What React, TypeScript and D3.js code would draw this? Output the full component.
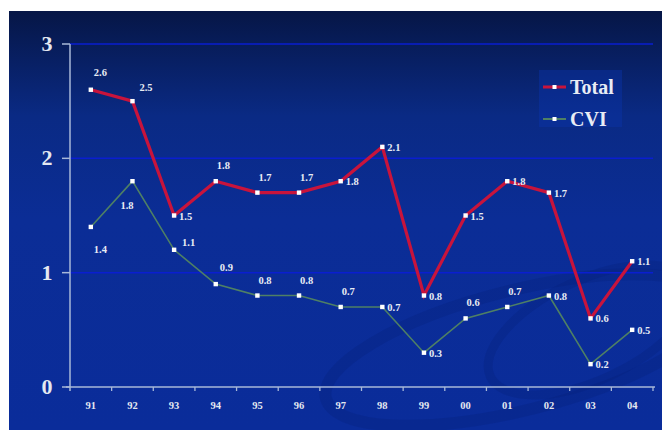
import React from "react";
import * as d3 from "d3";

const years = ["91","92","93","94","95","96","97","98","99","00","01","02","03","04"];
const totalValues = [2.6, 2.5, 1.5, 1.8, 1.7, 1.7, 1.8, 2.1, 0.8, 1.5, 1.8, 1.7, 0.6, 1.1];
const cviValues = [1.4, 1.8, 1.2, 0.9, 0.8, 0.8, 0.7, 0.7, 0.3, 0.6, 0.7, 0.8, 0.2, 0.5];
const totalLabels = ["2.6","2.5","1.5","1.8","1.7","1.7","1.8","2.1","0.8","1.5","1.8","1.7","0.6","1.1"];
const cviLabels = ["1.4","1.8","1.1","0.9","0.8","0.8","0.7","0.7","0.3","0.6","0.7","0.8","0.2","0.5"];
const yTicks = [0, 1, 2, 3];
const seriesNames = ["Total", "CVI"];

const totalPlace = ["ar1","ar2","r","a","a","a","r","r","r","r","r","r","r","r"];
const cviPlace = ["b1","b2","ar3","ar4","a","a","a","r","r","a","a","r","r","r"];

const offsets: Record<string, [number, number, string]> = {
  ar1: [3, -14, "start"],
  ar2: [7, -10, "start"],
  ar3: [8, -4, "start"],
  ar4: [4, -13, "start"],
  r: [5, 4, "start"],
  a: [1, -12, "start"],
  b1: [3, 26, "start"],
  b2: [-12, 28, "start"],
};

export default function App() {
  const W = 662, H = 430;
  const x = d3.scaleBand<string>().domain(years).range([70, 653]);
  const y = d3.scaleLinear().domain([0, 3]).range([387, 44]);
  const cx = (d: string) => (x(d) as number) + x.bandwidth() / 2;
  const line = d3.line<number>().x((_, i) => cx(years[i])).y((v) => y(v));
  const serif = "Liberation Serif, Times New Roman, DejaVu Serif, serif";
  const axisCol = "#a8b8d8";

  const labels = (vals: number[], texts: string[], place: string[]) =>
    vals.map((v, i) => {
      const [dx, dy, anchor] = offsets[place[i]];
      return (
        <text key={i} x={cx(years[i]) + dx} y={y(v) + dy} textAnchor={anchor as any}
          style={{ fontFamily: serif }} fontWeight="bold" fontSize={10.5} fill="#e8ecf4">{texts[i]}</text>
      );
    });

  const markers = (vals: number[]) =>
    vals.map((v, i) => (
      <rect key={i} x={cx(years[i]) - 2.2} y={y(v) - 2.2} width={4.4} height={4.4} fill="#ffffff" />
    ));

  return (
    <svg width={W} height={H} style={{ position: "absolute", left: 0, top: 0 }}>
      <defs>
        <linearGradient id="bg" x1="0" y1="0" x2="0" y2="1">
          <stop offset="0" stopColor="#061646" />
          <stop offset="0.25" stopColor="#0a2a84" />
          <stop offset="0.5" stopColor="#0b2d96" />
          <stop offset="1" stopColor="#0a2c9a" />
        </linearGradient>
      </defs>
      <rect x={0} y={0} width={W} height={H} fill="#ffffff" />
      <rect x={9} y={11} width={W - 9} height={H - 11} fill="url(#bg)" />
      {/* decorative swirl */}
      <g fill="none" stroke="#06207a" strokeOpacity={0.3}>
        <ellipse cx={520} cy={350} rx={200} ry={60} strokeWidth={12} transform="rotate(-14 520 350)" />
        <ellipse cx={590} cy={330} rx={110} ry={50} strokeWidth={9} transform="rotate(-25 590 330)" />
      </g>
      {/* gridlines */}
      {yTicks.filter((t) => t > 0).map((t) => (
        <line key={t} x1={70} x2={653} y1={y(t)} y2={y(t)} stroke="#0a1ed0" strokeWidth={1.5} />
      ))}
      {/* axes */}
      <line x1={70} x2={70} y1={y(3)} y2={y(0) + 4} stroke={axisCol} strokeWidth={1.5} />
      <line x1={66} x2={655} y1={y(0)} y2={y(0)} stroke={axisCol} strokeWidth={1.5} />
      {yTicks.map((t) => (
        <g key={t}>
          <line x1={62} x2={70} y1={y(t)} y2={y(t)} stroke={axisCol} strokeWidth={1.5} />
          <text x={47} y={y(t) + 7} textAnchor="middle" style={{ fontFamily: serif }} fontWeight="bold"
            fontSize={22} fill="#e4e8f0">{t}</text>
        </g>
      ))}
      {years.map((yr, i) => (
        <g key={yr}>
          {i > 0 && <line x1={x(yr) as number} x2={x(yr) as number} y1={y(0)} y2={y(0) + 4} stroke={axisCol} strokeWidth={1.3} />}
          <text x={cx(yr)} y={409} textAnchor="middle" style={{ fontFamily: serif }} fontWeight="bold"
            fontSize={10.5} fill="#e4e8f0">{yr}</text>
        </g>
      ))}
      <line x1={653} x2={653} y1={y(0)} y2={y(0) + 4} stroke={axisCol} strokeWidth={1.3} />
      {/* series */}
      <path d={line(cviValues) as string} fill="none" stroke="#4f8064" strokeWidth={1.6} />
      <path d={line(totalValues) as string} fill="none" stroke="#c8143c" strokeWidth={3.2} />
      {markers(cviValues)}
      {markers(totalValues)}
      {labels(totalValues, totalLabels, totalPlace)}
      {labels(cviValues, cviLabels, cviPlace)}
      {/* legend */}
      <rect x={539} y={70} width={83} height={57} fill="#0c34a8" fillOpacity={0.45} />
      <line x1={543} x2={566} y1={87} y2={87} stroke="#c8143c" strokeWidth={3} />
      <rect x={552.5} y={85} width={4} height={4} fill="#ffffff" />
      <text x={570} y={94} style={{ fontFamily: serif }} fontWeight="bold" fontSize={20} fill="#e8ecf4">{seriesNames[0]}</text>
      <line x1={543} x2={566} y1={119} y2={119} stroke="#4f8064" strokeWidth={2} />
      <rect x={552.5} y={117} width={4} height={4} fill="#ffffff" />
      <text x={570} y={126} style={{ fontFamily: serif }} fontWeight="bold" fontSize={20} fill="#e8ecf4">{seriesNames[1]}</text>
    </svg>
  );
}
